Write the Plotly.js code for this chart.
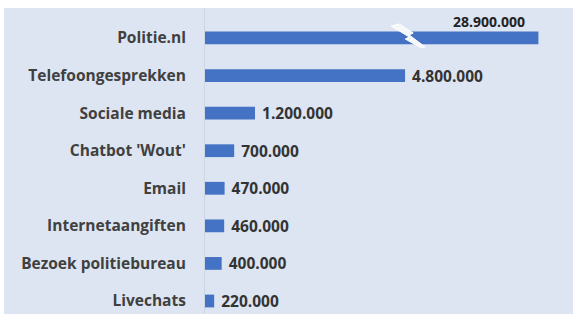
<!DOCTYPE html>
<html><head><meta charset="utf-8">
<script src="https://cdn.plot.ly/plotly-3.0.1.min.js"></script>
<style>html,body{margin:0;padding:0;background:#fff;}#chart{width:573px;height:314px;}</style>
</head><body><div id="chart"></div>
<script>
const categories = ["Politie.nl","Telefoongesprekken","Sociale media","Chatbot 'Wout'","Email","Internetaangiften","Bezoek politiebureau","Livechats"];
const values = [28900000, 4800000, 1200000, 700000, 470000, 460000, 400000, 220000];
// broken axis: bars longer than the cap are drawn to the cap and marked with a break symbol
const axisBreakCap = 8000000;

const shown = values.map(v => Math.min(v, axisBreakCap));
const tt = values.map(v => v > axisBreakCap ? '' : '\u00a0%{customdata:,.0f}');

const bg = '#dce5f1';
const trace = {
  type: 'bar', orientation: 'h',
  y: categories, x: shown, customdata: values,
  marker: {color: '#4472c4'},
  width: 0.34,
  texttemplate: tt, textposition: 'outside', cliponaxis: false, constraintext: 'none',
  textfont: {family: 'Open Sans', size: 15.5, color: '#333333', weight: 700},
  hoverinfo: 'none'
};
const brokenIdx = values.findIndex(v => v > axisBreakCap);
const layout = {
  width: 573, height: 314,
  margin: {l: 205, r: 0, t: 8, b: 0},
  paper_bgcolor: '#ffffff', plot_bgcolor: 'rgba(0,0,0,0)',
  separators: ',.',
  showlegend: false,
  font: {family: 'Open Sans', color: '#404040'},
  xaxis: {range: [0, 8.83e6], visible: false, fixedrange: true},
  yaxis: {type: 'category', range: [7.346, -0.798], showgrid: false, zeroline: false,
          showline: true, linecolor: '#cdd6e3', linewidth: 1,
          ticks: '', ticklabelstandoff: 15,
          tickfont: {family: 'Open Sans', size: 15.5, color: '#404040', weight: 700}},
  shapes: [
    {type: 'rect', xref: 'paper', yref: 'paper', x0: -201/368, x1: 1, y0: 0, y1: 1,
     fillcolor: bg, line: {width: 0}, layer: 'below'},
    {type: 'path', xref: 'x', yref: 'y', xsizemode: 'pixel', ysizemode: 'pixel',
     xanchor: 4.9e6, yanchor: brokenIdx,
     path: 'M -18 12 L -10 14 L 4 5 L 0 3 L 16 -9 L 12 -10 L -4 -1 L 0 1 Z',
     fillcolor: '#f7f8fa', line: {color: '#ffffff', width: 1}, layer: 'above'}
  ],
  annotations: [{
    x: shown[brokenIdx], y: categories[brokenIdx], xref: 'x', yref: 'y',
    text: values[brokenIdx].toLocaleString('nl-NL'), showarrow: false,
    xanchor: 'right', yanchor: 'middle', xshift: -11, yshift: 16,
    font: {family: 'Open Sans', size: 14, color: '#222222', weight: 700}
  }]
};
Plotly.newPlot('chart', [trace], layout, {staticPlot: true, displayModeBar: false});
</script></body></html>
